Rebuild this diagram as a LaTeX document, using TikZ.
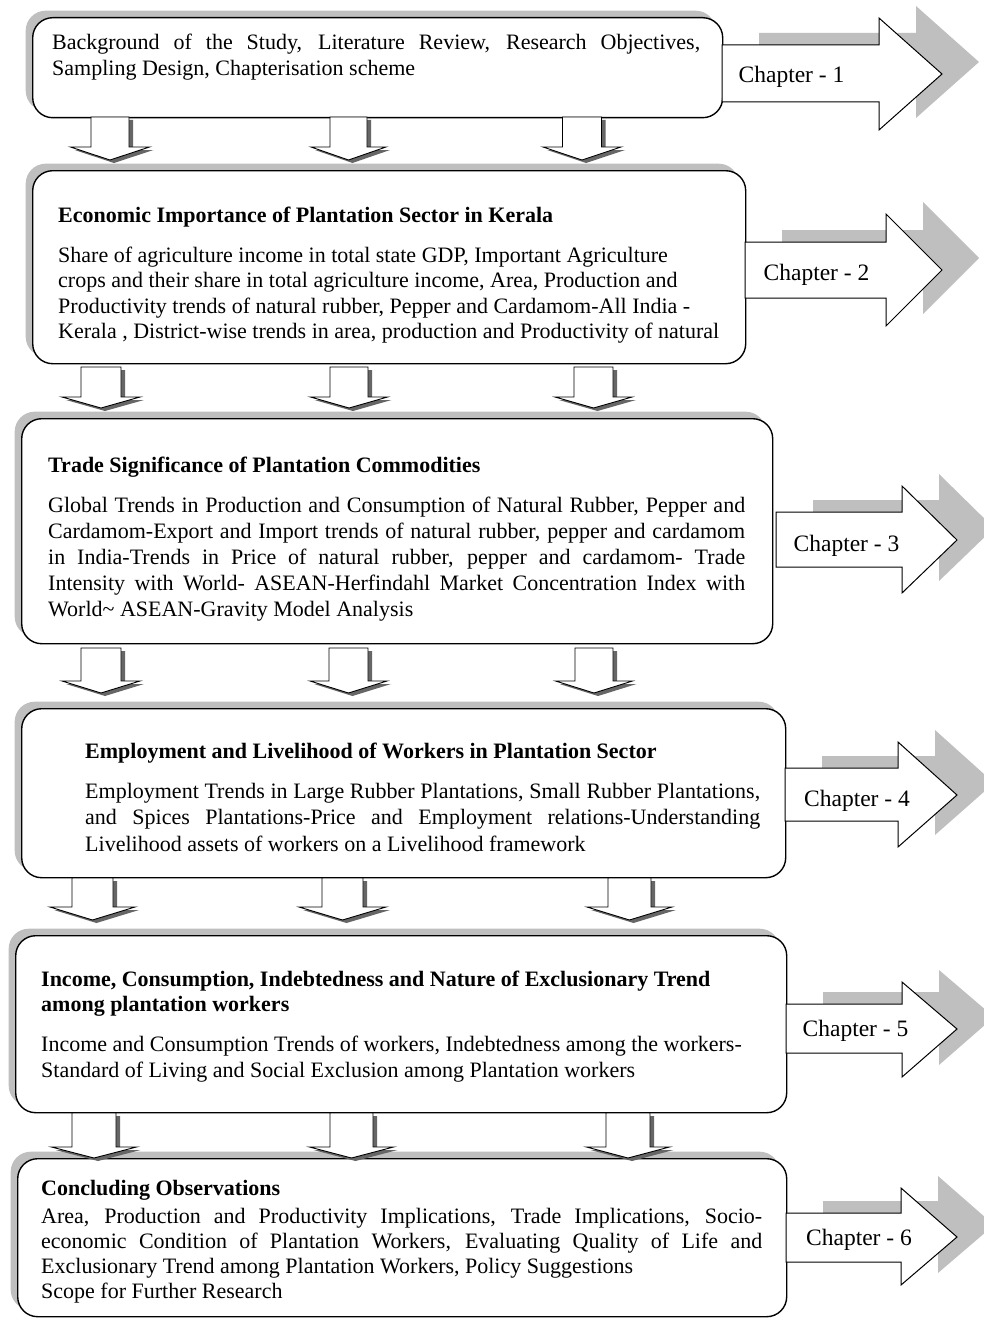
\documentclass[tikz,border=0pt]{standalone}
\usepackage{fontspec}
\setmainfont{Liberation Serif}
\usetikzlibrary{shadows}
\newcommand\JL[1]{\hbox to \hsize{#1}}
\newcommand\RL[1]{\hbox{#1}}
\tikzset{
  box/.style={draw=black, line width=1.4pt, fill=white, rounded corners=20pt,
    inner sep=0pt, anchor=north west,
    drop shadow={shadow xshift=-7pt, shadow yshift=7pt, fill=black!25, opacity=1}},
  txt/.style={anchor=base west, inner sep=0pt, font=\fontsize{22}{26}\selectfont},
  chlabel/.style={anchor=base, inner sep=0pt, font=\fontsize{23.5}{26}\selectfont},
  carrow/.style={draw=black, line width=1pt, fill=white, line join=miter},
  cshadow/.style={fill=black!25, draw=none},
  darrow/.style={draw=black, line width=0.9pt, fill=white, line join=miter},
  dshadow/.style={fill=black!60, draw=none},
}
% down block arrow: cx, ytop, yhead, ytip, shaft half width, head half width
\newcommand\DArr[6]{%
  \begin{scope}[shift={(#1,0)}]
    \fill[dshadow, shift={(4,3)}] (-#5,#2) -- (#5,#2) -- (#5,#3) -- (#6,#3) -- (0,#4) -- (-#6,#3) -- (-#5,#3) -- cycle;
    \draw[darrow] (-#5,#2) -- (#5,#2) -- (#5,#3) -- (#6,#3) -- (0,#4) -- (-#6,#3) -- (-#5,#3) -- cycle;
  \end{scope}}
% chapter block arrow: x0, shaft top, shaft bottom, head x, head top, head bottom, tip x, tip y
\newcommand\CArr[8]{%
  \fill[cshadow, shift={(37,-12)}] (#1,#2) -- (#4,#2) -- (#4,#5) -- (#7,#8) -- (#4,#6) -- (#4,#3) -- (#1,#3) -- cycle;
  \draw[carrow] (#1,#2) -- (#4,#2) -- (#4,#5) -- (#7,#8) -- (#4,#6) -- (#4,#3) -- (#1,#3) -- cycle;}
\begin{document}
\begin{tikzpicture}[x=1pt, y=-1pt]
\path[use as bounding box] (0,0) rectangle (984,1319);
\clip (0,0) rectangle (984,1319);
\fill[white] (0,0) rectangle (984,1319);

% boxes
\node[box, minimum width=690pt, minimum height=100pt] (b1) at (32,17) {};
\node[box, minimum width=713pt, minimum height=193pt] (b2) at (32,170) {};
\node[box, minimum width=751pt, minimum height=225pt] (b3) at (21,418) {};
\node[box, minimum width=764pt, minimum height=169pt] (b4) at (21,708) {};
\node[box, minimum width=771pt, minimum height=177pt] (b5) at (15,935) {};
\node[box, minimum width=769pt, minimum height=158pt] (b6) at (17,1158) {};

% chapter arrows
\CArr{722}{45}{102}{879}{18}{130}{942}{74}
\CArr{745}{242}{298}{886}{214}{326}{942}{270}
\CArr{776}{512}{567}{902}{486}{593}{957}{540}
\CArr{785}{768}{821}{898}{742}{847}{957}{795}
\CArr{786}{1004}{1053}{902}{982}{1077}{957}{1029}
\CArr{786}{1213}{1262}{901}{1188}{1285}{957}{1237}

\node[chlabel] (c1) at (791.5,83) {Chapter - 1};
\node[chlabel] (c2) at (816.5,280) {Chapter - 2};
\node[chlabel] (c3) at (846.5,551) {Chapter - 3};
\node[chlabel] (c4) at (857,806) {Chapter - 4};
\node[chlabel] (c5) at (855.5,1036) {Chapter - 5};
\node[chlabel] (c6) at (859,1245) {Chapter - 6};

% down arrows
\DArr{110}{117}{147}{160}{19}{39.5}
\DArr{348.5}{117}{147}{160}{18.5}{37.5}
\DArr{582}{117}{147}{160}{19.5}{39}
\DArr{101}{367}{397}{408}{20}{39}
\DArr{349}{367}{397}{408}{19}{38.5}
\DArr{593.5}{367}{397}{408}{19.5}{38.5}
\DArr{101}{648}{681}{693}{20}{39}
\DArr{348.5}{648}{681}{693}{19.5}{38.5}
\DArr{594}{648}{681}{693}{19}{38.5}
\DArr{92.5}{878}{907}{920}{20.5}{42.5}
\DArr{342.5}{878}{907}{920}{20.5}{43.5}
\DArr{629.5}{878}{907}{920}{21.5}{42.5}
\DArr{94}{1113}{1147}{1158}{22}{42.5}
\DArr{351.5}{1113}{1147}{1158}{21.5}{42}
\DArr{628}{1113}{1147}{1158}{22}{41.5}

% texts
\node[txt] (t1) at (52,50) {\vtop{\hsize=648pt \lineskiplimit=-30pt \baselineskip=26pt
  \JL{Background of the Study, Literature Review, Research Objectives,}
  \RL{Sampling Design, Chapterisation scheme}}};

\node[txt] (t2) at (58,222) {\vtop{\hsize=660pt \lineskiplimit=-30pt \baselineskip=25.5pt
  \RL{\bfseries Economic Importance of Plantation Sector in Kerala}
  \vskip 14.5pt
  \RL{Share of agriculture income in total state GDP, Important Agriculture}
  \RL{crops and their share in total agriculture income, Area, Production and}
  \RL{Productivity trends of natural rubber, Pepper and Cardamom-All India -}
  \RL{Kerala , District-wise trends in area, production and Productivity of natural}}};

\node[txt] (t3) at (48,472) {\vtop{\hsize=697pt \lineskiplimit=-30pt \baselineskip=26pt
  \RL{\bfseries Trade Significance of Plantation Commodities}
  \vskip 14pt
  \JL{Global Trends in Production and Consumption of Natural Rubber, Pepper and}
  \JL{Cardamom-Export and Import trends of natural rubber, pepper and cardamom}
  \JL{in India-Trends in Price of natural rubber, pepper and cardamom- Trade}
  \JL{Intensity with World- ASEAN-Herfindahl Market Concentration Index with}
  \RL{World\textasciitilde{} ASEAN-Gravity Model Analysis}}};

\node[txt] (t4) at (85,758) {\vtop{\hsize=675pt \lineskiplimit=-30pt \baselineskip=26.5pt
  \RL{\bfseries Employment and Livelihood of Workers in Plantation Sector}
  \vskip 13.5pt
  \JL{Employment Trends in Large Rubber Plantations, Small Rubber Plantations,}
  \JL{and Spices Plantations-Price and Employment relations-Understanding}
  \RL{Livelihood assets of workers on a Livelihood framework}}};

\node[txt] (t5) at (41,986) {\vtop{\hsize=700pt \lineskiplimit=-30pt \baselineskip=25pt
  \RL{\bfseries Income, Consumption, Indebtedness and Nature of Exclusionary Trend}
  \RL{\bfseries among plantation workers}
  \baselineskip=26pt \vskip 14pt
  \RL{Income and Consumption Trends of workers, Indebtedness among the workers-}
  \RL{Standard of Living and Social Exclusion among Plantation workers}}};

\node[txt] (t6) at (41,1195) {\vtop{\hsize=721pt \lineskiplimit=-30pt \baselineskip=25pt
  \RL{\bfseries Concluding Observations}
  \baselineskip=25pt \vskip 3pt
  \JL{Area, Production and Productivity Implications, Trade Implications, Socio-}
  \JL{economic Condition of Plantation Workers, Evaluating Quality of Life and}
  \RL{Exclusionary Trend among Plantation Workers, Policy Suggestions}
  \RL{Scope for Further Research}}};
\end{tikzpicture}
\end{document}
